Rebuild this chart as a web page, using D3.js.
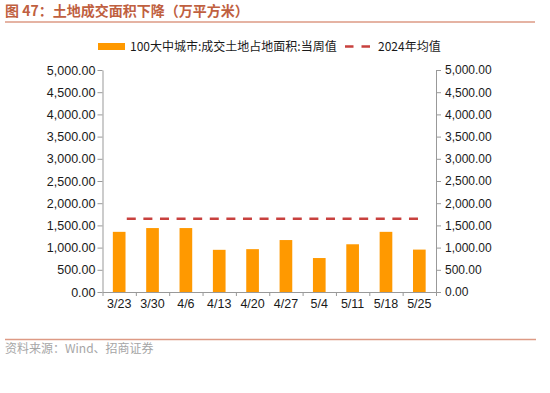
<!DOCTYPE html>
<html>
<head>
<meta charset="utf-8">
<script src="https://cdn.jsdelivr.net/npm/d3@7"></script>
<style>
  body { margin: 0; background: #fff; }
  svg { display: block; }
  .axis path, .axis line { stroke: #999; }
  .axis text { font-family: "Liberation Sans", Arial, sans-serif; fill: #1a1a1a; }
</style>
</head>
<body>
<svg id="chart"></svg>
<script>
var weeks = ["3/23", "3/30", "4/6", "4/13", "4/20", "4/27", "5/4", "5/11", "5/18", "5/25"];
var weeklyArea = [1355, 1440, 1440, 950, 965, 1170, 765, 1075, 1355, 955];
var avg2024 = 1650;
var yTicks = [0, 500, 1000, 1500, 2000, 2500, 3000, 3500, 4000, 4500, 5000];

var width = 550, height = 393;
var padding = { top: 70, right: 114, bottom: 101, left: 102.5 };

var svg = d3.select("#chart")
    .attr("width", width)
    .attr("height", height);

svg.append("rect")
    .attr("width", width)
    .attr("height", height)
    .attr("fill", "#fff");

// title + rules
svg.append("text")
    .attr("x", 5)
    .attr("y", 16)
    .attr("font-family", "'Noto Sans CJK SC', sans-serif")
    .attr("font-size", "14px")
    .attr("font-weight", "bold")
    .attr("fill", "#c0603f")
    .text("图 47：土地成交面积下降（万平方米）");

svg.append("line")
    .attr("x1", 5).attr("x2", 535)
    .attr("y1", 22).attr("y2", 22)
    .attr("stroke", "#dd9a85")
    .attr("stroke-width", 1.5);

svg.append("line")
    .attr("x1", 5).attr("x2", 536)
    .attr("y1", 339.5).attr("y2", 339.5)
    .attr("stroke", "#dd9a85")
    .attr("stroke-width", 1.5);

svg.append("text")
    .attr("x", 5)
    .attr("y", 353)
    .attr("font-family", "'Noto Sans CJK SC', sans-serif")
    .attr("font-size", "12px")
    .attr("fill", "#a6a6a6")
    .text("资料来源：Wind、招商证券");

var x0 = padding.left, x1 = width - padding.right;
var xScale = d3.scaleBand()
    .domain(weeks)
    .range([x0, x1])
    .paddingInner(0.62)
    .paddingOuter(0.31);

var yScale = d3.scaleLinear()
    .domain([0, 5000])
    .range([height - padding.bottom, padding.top]);

// axes
var fmt = d3.format(",.2f");

svg.append("g")
    .classed("axis", true)
    .attr("transform", "translate(" + x0 + ",0)")
    .call(d3.axisLeft(yScale).tickValues(yTicks).tickFormat(fmt).tickSize(5).tickPadding(2).tickSizeOuter(0))
    .selectAll("text").attr("font-size", "12.5px");

svg.append("g")
    .classed("axis", true)
    .attr("transform", "translate(" + x1 + ",0)")
    .call(d3.axisRight(yScale).tickValues(yTicks).tickFormat(fmt).tickSize(5).tickPadding(4).tickSizeOuter(0))
    .selectAll("text").attr("font-size", "12px");

// boundary ticks on x axis
var edge = d3.scaleLinear().domain([0, weeks.length]).range([x0, x1]);
svg.append("g")
    .classed("axis", true)
    .attr("transform", "translate(0," + yScale(0) + ")")
    .call(d3.axisBottom(edge).tickValues(d3.range(weeks.length + 1)).tickFormat("").tickSize(4).tickSizeOuter(0));

svg.append("g")
    .classed("axis", true)
    .attr("transform", "translate(0," + yScale(0) + ")")
    .call(d3.axisBottom(xScale).tickSize(0).tickPadding(7))
    .call(g => g.select(".domain").remove())
    .selectAll("text").attr("font-size", "12.5px");

// bars
svg.selectAll(".bar")
    .data(weeklyArea)
    .enter()
    .append("rect")
    .classed("bar", true)
    .attr("x", (d, i) => xScale(weeks[i]))
    .attr("y", d => yScale(d))
    .attr("width", xScale.bandwidth())
    .attr("height", d => yScale(0) - yScale(d))
    .attr("fill", "#ff9900");

// 2024 average dashed line
var avgLine = d3.line()
    .x(d => xScale(d) + xScale.bandwidth() / 2)
    .y(() => yScale(avg2024));

svg.append("path")
    .datum(weeks)
    .attr("d", avgLine)
    .attr("fill", "none")
    .attr("stroke", "#c8413e")
    .attr("stroke-width", 2.5)
    .attr("stroke-dasharray", "9,7.6")
    .attr("stroke-dashoffset", 9);

// legend
var legend = svg.append("g")
    .attr("font-family", "'Noto Sans CJK SC', 'Liberation Sans', sans-serif")
    .attr("font-size", "12px")
    .attr("fill", "#1a1a1a");

legend.append("rect")
    .attr("x", 98).attr("y", 43)
    .attr("width", 27).attr("height", 7)
    .attr("fill", "#ff9900");

legend.append("text")
    .attr("x", 130).attr("y", 51)
    .text("100大中城市:成交土地占地面积:当周值");

legend.append("line")
    .attr("x1", 345).attr("x2", 371)
    .attr("y1", 46.5).attr("y2", 46.5)
    .attr("stroke", "#c8413e")
    .attr("stroke-width", 2.5)
    .attr("stroke-dasharray", "8.5,8");

legend.append("text")
    .attr("x", 378).attr("y", 51)
    .text("2024年均值");
</script>
</body>
</html>
